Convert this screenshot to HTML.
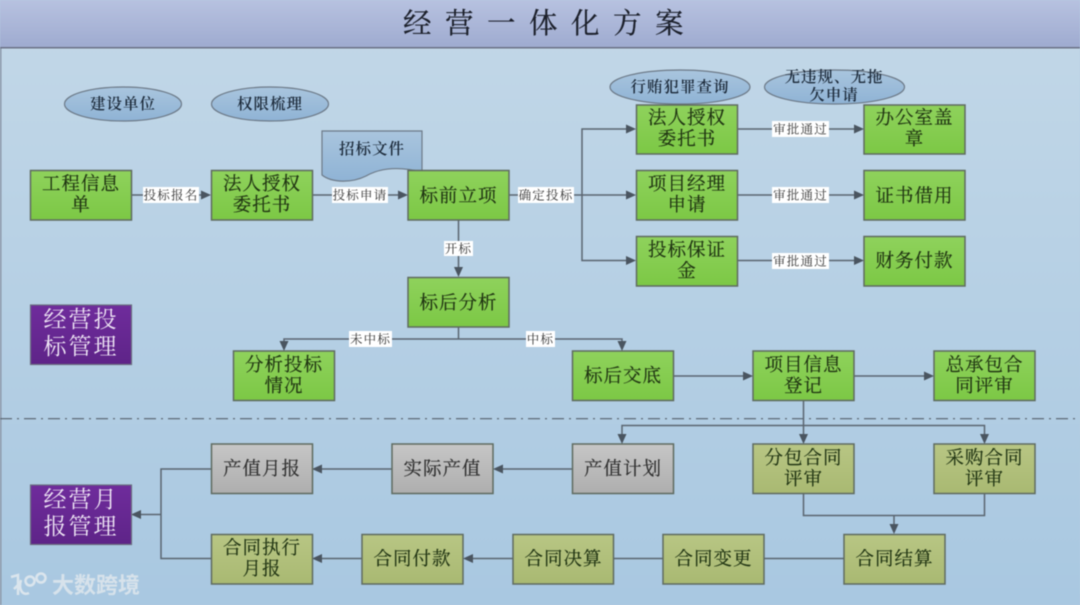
<!DOCTYPE html>
<html><head><meta charset="utf-8"><style>
html,body{margin:0;padding:0;width:1080px;height:605px;overflow:hidden;background:#b5cde2}
svg{display:block;filter:blur(.4px)}
text{font-family:"Liberation Serif","Noto Serif CJK SC",serif;text-anchor:middle}
.b{stroke:#5f6b60;stroke-width:1.5}
.t{font-size:18.5px;fill:#1f3312;stroke:#1f3312;stroke-width:.2;letter-spacing:1px;transform:translateY(1px)}
.g{font-size:18.5px;fill:#2e2e2e;stroke:#2e2e2e;stroke-width:.2;letter-spacing:1px;transform:translateY(1px)}
.l{font-size:12.5px;fill:#333;letter-spacing:1.2px}
.e{font-size:15.500px;fill:#1c2a3a;font-weight:600;letter-spacing:1px}
.p{font-size:23px;fill:#efe6f5;letter-spacing:2px}
.c{fill:none;stroke:#5a6570;stroke-width:1.5}
.a{fill:#4a5560}
</style></head><body>
<svg width="1080" height="605" viewBox="0 0 1080 605" xmlns="http://www.w3.org/2000/svg">
<defs>
<linearGradient id="bg" x1="0" y1="0" x2="0" y2="1"><stop offset="0" stop-color="#c3d8e8"/><stop offset="1" stop-color="#a9c8e1"/></linearGradient>
<linearGradient id="hd" x1="0" y1="0" x2="0" y2="1"><stop offset="0" stop-color="#b7c2e0"/><stop offset="1" stop-color="#9fabd0"/></linearGradient>
<linearGradient id="gr" x1="0" y1="0" x2="0" y2="1"><stop offset="0" stop-color="#8fd25c"/><stop offset="1" stop-color="#7cc845"/></linearGradient>
<linearGradient id="ol" x1="0" y1="0" x2="0" y2="1"><stop offset="0" stop-color="#b8c684"/><stop offset="1" stop-color="#a9b972"/></linearGradient>
<linearGradient id="gy" x1="0" y1="0" x2="0" y2="1"><stop offset="0" stop-color="#c6c6c6"/><stop offset="1" stop-color="#aeaeae"/></linearGradient>
<linearGradient id="pu" x1="0" y1="0" x2="0" y2="1"><stop offset="0" stop-color="#6f2c9c"/><stop offset="1" stop-color="#5e2488"/></linearGradient>
<linearGradient id="el" x1="0" y1="0" x2="0" y2="1"><stop offset="0" stop-color="#a9c5de"/><stop offset="1" stop-color="#8fb3d5"/></linearGradient>
</defs>
<rect width="1080" height="605" fill="url(#bg)"/>
<rect x="0" y="0" width="1.5" height="605" fill="#8b97a8"/>
<rect x="0" y="0" width="1080" height="47" fill="url(#hd)"/>
<rect x="0" y="47" width="1080" height="1.5" fill="#6c7286"/>
<text x="550" y="33" style="font-size:28.500px;fill:#1b1f2a;stroke:#1b1f2a;stroke-width:.2;letter-spacing:13.500px">经营一体化方案</text>

<line x1="0" y1="418.700" x2="1080" y2="418.700" stroke="#55606c" stroke-width="1.2" stroke-dasharray="12 5 2 5"/>

<path class="c" d="M131 195H205M312 195H402M509 195H630M582 195V129H630M582 195V260.500H630M737 129H858M737 195H858M737 260.500H858"/>
<path class="c" d="M458.500 220V271M458.500 327V339M284 345V339H622V345M673 376H747M854 376H928"/>
<path class="c" d="M803.500 400V438M622 438V425.500H984.500V438"/>
<path class="c" d="M803.500 493V515.500H984.500V493M894 515.500V528"/>
<path class="c" d="M572 469H499M392 469H318M211 469H161V558.500H211M161 514.500H138"/>
<path class="c" d="M844 558.500H764M663 558.500H613M513 558.500H469M362 558.500H318"/>
<g class="a">
<path d="M211 195l-10-4.500v9zM408 195l-10-4.500v9zM636 129l-10-4.500v9zM636 195l-10-4.500v9zM636 260.500l-10-4.500v9zM864 129l-10-4.500v9zM864 195l-10-4.500v9zM864 260.500l-10-4.500v9z"/>
<path d="M458.500 277l-4.500-10h9zM284 351l-4.500-10h9zM622 351l-4.500-10h9zM753 376l-10-4.500v9zM934 376l-10-4.500v9z"/>
<path d="M622 444l-4.500-10h9zM803.500 444l-4.500-10h9zM984.500 444l-4.500-10h9zM894 534l-4.500-10h9z"/>
<path d="M493 469l10-4.500v9zM312 469l10-4.500v9zM131 514.500l10-4.500v9zM312 558.500l10-4.500v9zM463 558.500l10-4.500v9z"/>
</g>

<g fill="#fff">
<rect x="143" y="187" width="56" height="16"/><rect x="332" y="187" width="56" height="16"/>
<rect x="518" y="187" width="56" height="16"/><rect x="444" y="241" width="29" height="15"/>
<rect x="772" y="121" width="57" height="16"/><rect x="772" y="187" width="57" height="16"/><rect x="772" y="253" width="57" height="16"/>
<rect x="349" y="331" width="43" height="16"/><rect x="526" y="331" width="29" height="16"/>
</g>
<text class="l" x="171" y="199.500">投标报名</text><text class="l" x="360" y="199.500">投标申请</text>
<text class="l" x="546" y="199.500">确定投标</text><text class="l" x="458.500" y="253">开标</text>
<text class="l" x="800.500" y="133.500">审批通过</text><text class="l" x="800.500" y="199.500">审批通过</text><text class="l" x="800.500" y="265.500">审批通过</text>
<text class="l" x="370.500" y="343.500">未中标</text><text class="l" x="540.500" y="343.500">中标</text>

<g fill="url(#el)" stroke="#6d7a88" stroke-width="1.2">
<ellipse cx="123" cy="104" rx="58.500" ry="17"/><ellipse cx="270" cy="104" rx="58.500" ry="17"/>
<ellipse cx="680" cy="87" rx="70" ry="17"/><ellipse cx="834.500" cy="87" rx="70" ry="17"/>
</g>
<text class="e" x="123" y="109">建设单位</text><text class="e" x="270" y="109">权限梳理</text>
<text class="e" x="680" y="92">行贿犯罪查询</text>
<text class="e" x="834" y="82">无违规、无拖</text><text class="e" x="834" y="100">欠申请</text>

<path d="M322 131H422V172C398 166 380 168 366 176C352 183 332 183 322 175Z" fill="url(#el)" stroke="#6d7a88" stroke-width="1.2"/>
<text class="e" x="372" y="154">招标文件</text>

<g fill="url(#gr)" class="b">
<rect x="30.500" y="170.500" width="101" height="49.500"/><rect x="211.500" y="170.500" width="101" height="49.500"/><rect x="408" y="170.500" width="101" height="49.500"/>
<rect x="408" y="277.500" width="101" height="49.500"/>
<rect x="636.500" y="105" width="101" height="49"/><rect x="636.500" y="170.500" width="101" height="49.500"/><rect x="636.500" y="236.500" width="101" height="49.500"/>
<rect x="864" y="105" width="101" height="49"/><rect x="864" y="170.500" width="101" height="49.500"/><rect x="864" y="236.500" width="101" height="49.500"/>
<rect x="233.500" y="351" width="101" height="49.500"/><rect x="572.500" y="351" width="101" height="49.500"/>
<rect x="753" y="351" width="101" height="49.500"/><rect x="934" y="351" width="101" height="49.500"/>
</g>
<text class="t" x="81" y="189">工程信息</text><text class="t" x="81" y="210">单</text>
<text class="t" x="262" y="189">法人授权</text><text class="t" x="262" y="210">委托书</text>
<text class="t" x="458.500" y="201">标前立项</text>
<text class="t" x="458.500" y="308">标后分析</text>
<text class="t" x="687" y="123">法人授权</text><text class="t" x="687" y="144">委托书</text>
<text class="t" x="687" y="189">项目经理</text><text class="t" x="687" y="210">申请</text>
<text class="t" x="687" y="255">投标保证</text><text class="t" x="687" y="276">金</text>
<text class="t" x="914.500" y="123">办公室盖</text><text class="t" x="914.500" y="144">章</text>
<text class="t" x="914.500" y="201">证书借用</text><text class="t" x="914.500" y="266">财务付款</text>
<text class="t" x="284" y="370">分析投标</text><text class="t" x="284" y="391">情况</text>
<text class="t" x="623" y="381">标后交底</text>
<text class="t" x="803.500" y="370">项目信息</text><text class="t" x="803.500" y="391">登记</text>
<text class="t" x="984.500" y="370">总承包合</text><text class="t" x="984.500" y="391">同评审</text>

<g fill="url(#gy)" class="b">
<rect x="211.500" y="444" width="101" height="49.500"/><rect x="392" y="444" width="101" height="49.500"/><rect x="572.500" y="444" width="101" height="49.500"/>
</g>
<text class="g" x="262" y="474">产值月报</text><text class="g" x="442.500" y="474">实际产值</text><text class="g" x="623" y="474">产值计划</text>

<g fill="url(#ol)" class="b">
<rect x="753" y="444" width="101" height="49.500"/><rect x="934" y="444" width="101" height="49.500"/>
<rect x="211.500" y="534.500" width="101" height="49.500"/><rect x="362" y="534.500" width="101" height="49.500"/><rect x="513" y="534.500" width="100.500" height="49.500"/><rect x="663" y="534.500" width="101" height="49.500"/><rect x="844" y="534.500" width="101" height="49.500"/>
</g>
<text class="t" x="803.500" y="463">分包合同</text><text class="t" x="803.500" y="484">评审</text>
<text class="t" x="984.500" y="463">采购合同</text><text class="t" x="984.500" y="484">评审</text>
<text class="t" x="262" y="553">合同执行</text><text class="t" x="262" y="574">月报</text>
<text class="t" x="412.500" y="564">合同付款</text><text class="t" x="563.500" y="564">合同决算</text>
<text class="t" x="713.500" y="564">合同变更</text><text class="t" x="894.500" y="564">合同结算</text>

<g fill="url(#pu)" stroke="#6b6f80" stroke-width="1.2">
<rect x="30.500" y="305" width="101" height="59.500"/><rect x="30.500" y="485" width="101" height="59.500"/>
</g>
<text class="p" x="81" y="327">经营投</text><text class="p" x="81" y="354">标管理</text>
<text class="p" x="81" y="507">经营月</text><text class="p" x="81" y="534">报管理</text>

<g fill="none" stroke="#e4ebf0" stroke-width="2.500" opacity=".85">
<path d="M11 577L18 575V595M18 585L14 589M21 580C18 590 23 596 29 593"/>
<circle cx="30" cy="581" r="4.500"/><circle cx="41" cy="578" r="4.500"/>
</g>
<text x="96" y="593" style="font-family:'Liberation Sans','Noto Sans CJK SC',sans-serif;font-size:22px;font-weight:700;fill:#dfe7ed;opacity:.85">大数跨境</text>
</svg>
</body></html>
